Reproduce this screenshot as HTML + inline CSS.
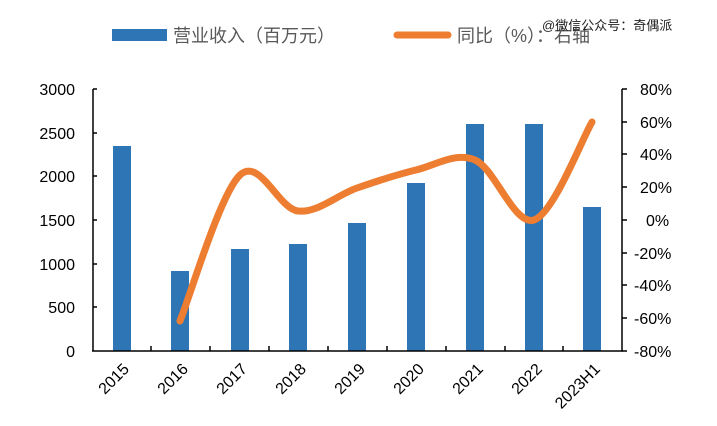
<!DOCTYPE html>
<html><head><meta charset="utf-8"><style>
html,body{margin:0;padding:0;background:#fff;}
svg{display:block;}
text{font-family:"Liberation Sans","Noto Sans CJK SC",sans-serif;fill:#000;}
</style></head><body>
<svg width="717" height="426" viewBox="0 0 717 426" xmlns="http://www.w3.org/2000/svg">
<rect x="112" y="29" width="55" height="12" fill="#2E75B6"/>
<text x="173" y="42" font-size="18" style="fill:#595959">营业收入（百万元）</text>
<line x1="397" y1="35" x2="448" y2="35" stroke="#ED7D31" stroke-width="7" stroke-linecap="round"/>
<text x="457" y="42" font-size="18" style="fill:#595959">同比（%）：右轴</text>
<text x="542" y="30" font-size="13" style="fill:#222">@微信公众号：奇偶派</text>
<g fill="#2E75B6">
<rect x="113" y="146" width="18" height="205"/>
<rect x="171" y="271" width="18" height="80"/>
<rect x="231" y="249" width="18" height="102"/>
<rect x="289" y="244" width="18" height="107"/>
<rect x="348" y="223" width="18" height="128"/>
<rect x="407" y="183" width="18" height="168"/>
<rect x="466" y="124" width="18" height="227"/>
<rect x="525" y="124" width="18" height="227"/>
<rect x="583" y="207" width="18" height="144"/>
</g>
<g stroke="#000" stroke-width="1.5" fill="none">
<line x1="93" y1="89" x2="93" y2="351"/>
<line x1="622" y1="89" x2="622" y2="351"/>
<line x1="92" y1="351" x2="623" y2="351"/>
<path d="M93 89h4M93 133h4M93 176h4M93 220h4M93 264h4M93 307h4"/>
<path d="M622 89h5M622 122h5M622 154h5M622 187h5M622 220h5M622 253h5M622 285h5M622 318h5M622 351h5"/>
<path d="M151 351v-5M210 351v-5M269 351v-5M328 351v-5M387 351v-5M446 351v-5M505 351v-5M563 351v-5"/>
</g>
<g font-size="16" text-anchor="end">
<text x="75" y="95">3000</text><text x="75" y="139">2500</text><text x="75" y="182">2000</text>
<text x="75" y="226">1500</text><text x="75" y="270">1000</text><text x="75" y="313">500</text><text x="75" y="357">0</text>
</g>
<g font-size="16">
<text x="640" y="95">80%</text><text x="640" y="128">60%</text><text x="640" y="160">40%</text>
<text x="640" y="193">20%</text><text x="646" y="226">0%</text><text x="634" y="259">-20%</text>
<text x="634" y="291">-40%</text><text x="634" y="324">-60%</text><text x="634" y="357">-80%</text>
</g>
<g font-size="16" text-anchor="end">
<text transform="translate(130,370) rotate(-45)">2015</text>
<text transform="translate(189,370) rotate(-45)">2016</text>
<text transform="translate(248,370) rotate(-45)">2017</text>
<text transform="translate(307,370) rotate(-45)">2018</text>
<text transform="translate(366,370) rotate(-45)">2019</text>
<text transform="translate(425,370) rotate(-45)">2020</text>
<text transform="translate(484,370) rotate(-45)">2021</text>
<text transform="translate(543,370) rotate(-45)">2022</text>
<text transform="translate(601,370) rotate(-45)">2023H1</text>
</g>
<path d="M180 321C190 296.7 220.3 193.3 240 175C259.7 156.7 278.5 208.8 298 211C317.5 213.2 337.3 194.8 357 188C376.7 181.2 396.3 174.7 416 170C435.7 165.3 455.3 151.7 475 160C494.7 168.3 514.5 226.3 534 220C553.5 213.7 582.3 138.3 592 122" fill="none" stroke="#ED7D31" stroke-width="7" stroke-linecap="round"/>
</svg>
</body></html>
